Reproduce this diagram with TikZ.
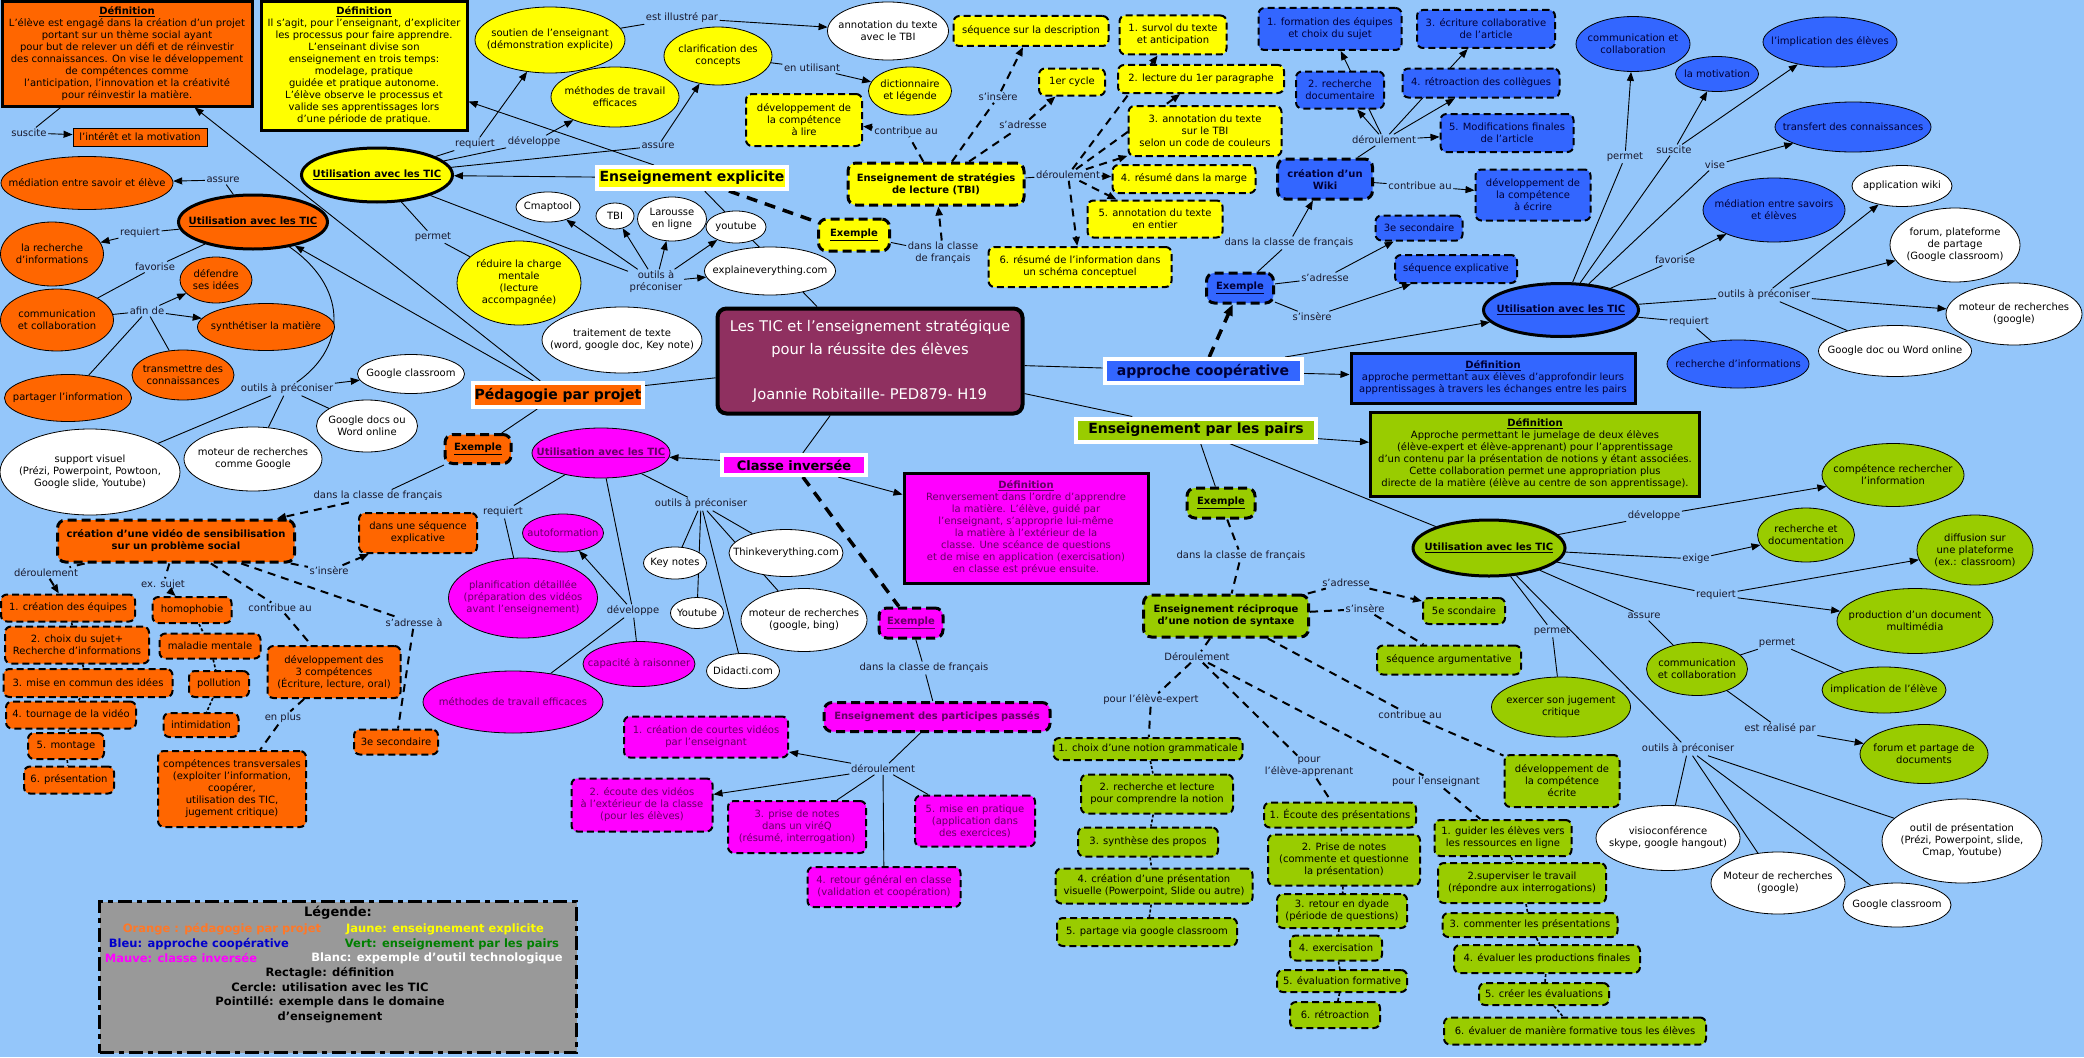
\documentclass[tikz,border=0pt]{standalone}
\usepackage{fontspec}
\setmainfont{DejaVu Sans}
\usetikzlibrary{shapes.geometric,arrows.meta}
\pgfdeclarelayer{bg}
\pgfdeclarelayer{edges}
\pgfsetlayers{bg,edges,main}
\definecolor{cbg}{RGB}{148,198,250}
\definecolor{cor}{RGB}{255,102,0}
\definecolor{cye}{RGB}{255,255,0}
\definecolor{cbl}{RGB}{51,102,255}
\definecolor{cma}{RGB}{255,0,255}
\definecolor{cgr}{RGB}{153,204,0}
\definecolor{cti}{RGB}{143,48,96}
\definecolor{cle}{RGB}{153,153,153}
\definecolor{labc}{RGB}{25,25,45}
\definecolor{btx}{RGB}{0,0,55}
\definecolor{mtx}{RGB}{100,0,100}
\definecolor{lgor}{RGB}{255,120,40}
\definecolor{lgbl}{RGB}{0,0,204}
\definecolor{lggr}{RGB}{0,128,0}
\tikzset{
 thn/.style={draw=black,line width=0.8pt},
 ticb/.style={draw=black,line width=3pt},
 dbx/.style={draw=black,line width=2pt,dash pattern=on 7pt off 4pt,rounded corners=6pt},
 exb/.style={draw=black,line width=3pt,dash pattern=on 9pt off 5pt,rounded corners=8pt},
 dfb/.style={draw=black,line width=3pt},
 hd/.style={draw=white,line width=4pt},
 txt/.style={align=center,inner sep=0pt,font=\fontsize{10}{12}\selectfont,text=black},
 lab/.style={align=center,inner sep=1.5pt,font=\fontsize{10}{12}\selectfont,text=labc},
 cln/.style={draw=black,line width=0.9pt},
 car/.style={cln,-{Triangle[length=9pt,width=7pt]}},
 cdl/.style={draw=black,line width=2pt,dash pattern=on 8pt off 6pt},
 cda/.style={cdl,-{Triangle[length=9pt,width=7pt]}},
 cdt/.style={draw=black,line width=3.5pt,dash pattern=on 11pt off 8pt},
 csm/.style={draw=black,line width=1.6pt,dash pattern=on 3pt off 2pt},
 lgt/.style={inner sep=0pt,font=\fontsize{11.5}{14}\selectfont\bfseries},
}
\newcommand\EL[7]{\node[ellipse,inner sep=0pt,#1,minimum width=#5pt,minimum height=#6pt] (#2) at (#3,#4) {};\node[txt] at (#2.center) {#7};}
\newcommand\BX[7]{\node[rectangle,inner sep=0pt,#1,minimum width=#5pt,minimum height=#6pt] (#2) at (#3,#4) {};\node[txt] at (#2.center) {#7};}
\newcommand\HB{\fontsize{14}{16}\selectfont\bfseries}
\begin{document}
\begin{tikzpicture}[x=1pt,y=-1pt]
\useasboundingbox (0,0) rectangle (2084,1057);
\begin{pgfonlayer}{bg}\fill[cbg] (0,0) rectangle (2084,1057);\end{pgfonlayer}

% ---------- title
\node[rectangle,rounded corners=9pt,draw=black,line width=4pt,fill=cti,minimum width=305pt,minimum height=105pt,inner sep=0pt] (title) at (870,361) {};
\node[text=white,align=center,inner sep=0pt,font=\fontsize{14.7}{22.5}\selectfont] at (title.center) {Les TIC et l'enseignement stratégique\\pour la réussite des élèves\\\mbox{}\\Joannie Robitaille- PED879- H19};

% ---------- ORANGE
\BX{dfb,fill=cor}{odef}{127}{54}{250}{104}{\underline{\textbf{Définition}}\\L'élève est engagé dans la création d'un projet\\portant sur un thème social ayant\\pour but de relever un défi et de réinvestir\\des connaissances. On vise le développement\\de compétences comme\\l'anticipation, l'innovation et la créativité\\pour réinvestir la matière.}
\node[lab] (osus) at (29,133) {suscite};
\BX{thn,fill=cor}{oint}{140}{137}{134}{18}{l’intérêt et la motivation}
\EL{thn,fill=cor}{omed}{87}{183}{172}{53}{médiation entre savoir et élève}
\node[lab] (oass) at (223,180) {assure};
\EL{ticb,fill=cor}{otic}{253}{222}{149}{54}{\textbf{\underline{Utilisation avec les TIC}}}
\node[lab] (oreq) at (140,233) {requiert};
\EL{thn,fill=cor}{orech}{52}{254}{103}{64}{la recherche\\d'informations}
\node[lab] (ofav) at (155,267) {favorise};
\EL{thn,fill=cor}{odefe}{216}{280}{72}{46}{défendre\\ses idées}
\EL{thn,fill=cor}{ocom}{57}{320}{113}{62}{communication\\et collaboration}
\node[lab] (oafin) at (147,311) {afin de};
\EL{thn,fill=cor}{osyn}{266}{327}{137}{47}{synthétiser la matière}
\EL{thn,fill=cor}{otra}{183}{375}{102}{50}{transmettre des\\connaissances}
\EL{thn,fill=cor}{opar}{68}{398}{127}{47}{partager l'information}
\node[lab] (oout) at (287,389) {outils à préconiser};
\EL{thn,fill=white}{ogcl}{411}{374}{107}{39}{Google classroom}
\EL{thn,fill=white}{ogdoc}{367}{426}{101}{52}{Google docs ou\\Word online}
\EL{thn,fill=white}{osup}{90}{472}{180}{86}{support visuel\\(Prézi, Powerpoint, Powtoon,\\Google slide, Youtube)}
\EL{thn,fill=white}{omot}{253}{459}{138}{64}{moteur de recherches\\comme Google}
\BX{hd,fill=cor}{hped}{558}{395}{170}{24}{\HB Pédagogie par projet}
\BX{exb,fill=cor}{oex}{478}{449}{66}{29}{\textbf{\underline{Exemple}}}
\node[lab] (ocl) at (378,496) {dans la classe de français};
\BX{exb,fill=cor}{ovid}{176}{541}{237}{42}{\textbf{création d'une vidéo de sensibilisation}\\\textbf{sur un problème social}}
\BX{dbx,fill=cor}{oseq}{418}{533}{118}{40}{dans une séquence\\explicative}
\node[lab] (oins) at (329,571) {s'insère};
\node[lab] (oder) at (46,573) {déroulement};
\node[lab] (oexs) at (163,585) {ex. sujet};
\node[lab] (ocon) at (280,608) {contribue au};
\node[lab] (oadr) at (414,623) {s'adresse à};
\BX{dbx,fill=cor}{os1}{68}{608}{134}{27}{1. création des équipes}
\BX{dbx,fill=cor}{os2}{77}{645}{144}{37}{2. choix du sujet+\\Recherche d'informations}
\BX{dbx,fill=cor}{os3}{88}{683}{169}{28}{3. mise en commun des idées}
\BX{dbx,fill=cor}{os4}{71}{715}{130}{27}{4. tournage de la vidéo}
\BX{dbx,fill=cor}{os5}{66}{746}{76}{26}{5. montage}
\BX{dbx,fill=cor}{os6}{69}{780}{90}{27}{6. présentation}
\BX{dbx,fill=cor}{osu1}{192}{610}{79}{26}{homophobie}
\BX{dbx,fill=cor}{osu2}{210}{646}{101}{25}{maladie mentale}
\BX{dbx,fill=cor}{osu3}{219}{684}{60}{26}{pollution}
\BX{dbx,fill=cor}{osu4}{201}{725}{75}{24}{intimidation}
\BX{dbx,fill=cor}{o3c}{334}{672}{133}{52}{développement des\\3 compétences\\(Écriture, lecture, oral)}
\node[lab] (oplus) at (283,718) {en plus};
\BX{dbx,fill=cor}{otr}{232}{789}{148}{76}{compétences transversales\\(exploiter l'information,\\coopérer,\\utilisation des TIC,\\jugement critique)}
\BX{dbx,fill=cor}{o3e}{396}{742}{84}{25}{3e secondaire}

% ---------- YELLOW
\BX{dfb,fill=cye}{ydef}{364}{66}{206}{128}{\underline{\textbf{Définition}}\\Il s'agit, pour l'enseignant, d'expliciter\\les processus pour faire apprendre.\\L'enseinant divise son\\enseignement en trois temps:\\modelage, pratique\\guidée et pratique autonome.\\L'élève observe le processus et\\valide ses apprentissages lors\\d'une période de pratique.}
\EL{ticb,fill=cye}{ytic}{377}{175}{151}{54}{\textbf{\underline{Utilisation avec les TIC}}}
\node[lab] (yreq) at (475,144) {requiert};
\node[lab] (ydev) at (534,142) {développe};
\node[lab] (yper) at (433,237) {permet};
\EL{thn,fill=cye}{yred}{519}{283}{124}{84}{réduire la charge\\mentale\\(lecture\\accompagnée)}
\EL{thn,fill=cye}{ysou}{550}{40}{150}{66}{soutien de l'enseignant\\(démonstration explicite)}
\node[lab] (yill) at (682,18) {est illustré par};
\EL{thn,fill=white}{yann}{888}{31}{121}{58}{annotation du texte\\avec le TBI}
\EL{thn,fill=cye}{ycla}{718}{56}{108}{58}{clarification des\\concepts}
\node[lab] (yuti) at (812,68) {en utilisant};
\EL{thn,fill=cye}{ydic}{910}{91}{83}{48}{dictionnaire\\et légende}
\EL{thn,fill=cye}{ymet}{615}{97}{128}{60}{méthodes de travail\\efficaces}
\node[lab] (yass) at (658,146) {assure};
\BX{dbx,fill=cye}{ylir}{804}{120}{116}{52}{développement de\\la compétence\\à lire}
\node[lab] (ycon) at (906,131) {contribue au};
\BX{hd,fill=cye}{hexp}{692}{178}{190}{22}{\HB Enseignement explicite}
\EL{thn,fill=white}{ycmap}{548}{207}{64}{30}{Cmaptool}
\EL{thn,fill=white}{ytbi}{615}{216}{38}{26}{TBI}
\EL{thn,fill=white}{ylar}{672}{219}{69}{44}{Larousse\\en ligne}
\EL{thn,fill=white}{yyou}{736}{227}{60}{32}{youtube}
\node[lab] (yout) at (656,282) {outils à\\préconiser};
\EL{thn,fill=white}{yexpl}{770}{271}{131}{48}{explaineverything.com}
\EL{thn,fill=white}{ytrt}{622}{340}{160}{66}{traitement de texte\\(word, google doc, Key note)}
\BX{exb,fill=cye}{yex}{854}{235}{71}{32}{\textbf{\underline{Exemple}}}
\node[lab] (ycl) at (943,253) {dans la classe\\de français};
\BX{exb,fill=cye}{ystr}{936}{184}{176}{42}{\textbf{Enseignement de stratégies}\\\textbf{de lecture (TBI)}}
\node[lab] (yins) at (998,97) {s'insère};
\node[lab] (yadr) at (1023,125) {s'adresse};
\BX{dbx,fill=cye}{yseq}{1031}{31}{155}{30}{séquence sur la description}
\BX{dbx,fill=cye}{ycyc}{1072}{82}{66}{27}{1er cycle}
\node[lab] (yder) at (1068,175) {déroulement};
\BX{dbx,fill=cye}{y1}{1173}{35}{107}{39}{1. survol du texte\\et anticipation}
\BX{dbx,fill=cye}{y2}{1201}{79}{166}{28}{2. lecture du 1er paragraphe}
\BX{dbx,fill=cye}{y3}{1205}{131}{153}{50}{3. annotation du texte\\sur le TBI\\selon un code de couleurs}
\BX{dbx,fill=cye}{y4}{1184}{179}{143}{28}{4. résumé dans la marge}
\BX{dbx,fill=cye}{y5}{1155}{219}{135}{37}{5. annotation du texte\\en entier}
\BX{dbx,fill=cye}{y6}{1080}{267}{183}{40}{6. résumé de l'information dans\\un schéma conceptuel}

% ---------- BLUE
\begin{scope}[txt/.append style={text=btx}]
\BX{dbx,fill=cbl}{b1}{1330}{29}{143}{42}{1. formation des équipes\\et choix du sujet}
\BX{dbx,fill=cbl}{b3}{1486}{29}{138}{38}{3. écriture collaborative\\de l'article}
\BX{dbx,fill=cbl}{b2}{1340}{90}{88}{37}{2. recherche\\documentaire}
\BX{dbx,fill=cbl}{b4}{1481}{83}{157}{29}{4. rétroaction des collègues}
\BX{dbx,fill=cbl}{b5}{1507}{133}{133}{38}{5. Modifications finales\\de l'article}
\node[lab] (bder) at (1384,140) {déroulement};
\BX{exb,fill=cbl}{bwik}{1325}{179}{95}{40}{\textbf{création d'un}\\\textbf{Wiki}}
\node[lab] (bcon) at (1420,186) {contribue au};
\BX{dbx,fill=cbl}{bdev}{1533}{195}{115}{51}{développement de\\la compétence\\à écrire}
\BX{dbx,fill=cbl}{b3e}{1419}{228}{87}{25}{3e secondaire}
\BX{dbx,fill=cbl}{bseq}{1456}{269}{122}{28}{séquence explicative}
\node[lab] (bcl) at (1289,243) {dans la classe de français};
\BX{exb,fill=cbl}{bex}{1240}{288}{67}{30}{\textbf{\underline{Exemple}}}
\node[lab] (badr) at (1325,278) {s'adresse};
\node[lab] (bins) at (1312,317) {s'insère};
\EL{ticb,fill=cbl}{btic}{1561}{310}{155}{53}{\textbf{\underline{Utilisation avec les TIC}}}
\EL{thn,fill=cbl}{bcom}{1633}{44}{114}{55}{communication et\\collaboration}
\EL{thn,fill=cbl}{bmot}{1717}{74}{83}{35}{la motivation}
\EL{thn,fill=cbl}{bimp}{1830}{42}{134}{50}{l'implication des élèves}
\EL{thn,fill=cbl}{btra}{1853}{127}{156}{50}{transfert des connaissances}
\node[lab] (bper) at (1625,157) {permet};
\node[lab] (bsus) at (1674,150) {suscite};
\node[lab] (bvis) at (1715,165) {vise};
\EL{thn,fill=cbl}{bmed}{1774}{210}{142}{64}{médiation entre savoirs\\et élèves}
\node[lab] (bfav) at (1675,260) {favorise};
\node[lab] (bout) at (1764,295) {outils à préconiser};
\node[lab] (breq) at (1689,322) {requiert};
\EL{thn,fill=cbl}{brec}{1738}{364}{142}{48}{recherche d'informations}
\BX{hd,fill=cbl}{happ}{1203}{371}{197}{24}{\HB approche coopérative}
\BX{dfb,fill=cbl}{bdef}{1493}{378}{284}{50}{\underline{\textbf{Définition}}\\approche permettant aux élèves d’approfondir leurs\\apprentissages à travers les échanges entre les pairs}
\end{scope}
\EL{thn,fill=white}{bwiki}{1902}{186}{100}{41}{application wiki}
\EL{thn,fill=white}{bfor}{1955}{245}{130}{74}{forum, plateforme\\de partage\\(Google classroom)}
\EL{thn,fill=white}{bmtr}{2014}{314}{136}{62}{moteur de recherches\\(google)}
\EL{thn,fill=white}{bgdoc}{1895}{351}{153}{51}{Google doc ou Word online}

% ---------- GREEN
\BX{hd,fill=cgr}{hpai}{1196}{430}{240}{23}{\HB Enseignement par les pairs}
\BX{dfb,fill=cgr}{gdef}{1535}{454}{329}{84}{\underline{\textbf{Définition}}\\Approche permettant le jumelage de deux élèves\\(élève-expert et élève-apprenant) pour l'apprentissage\\d'un contenu par la présentation de notions y étant associées.\\Cette collaboration permet une appropriation plus\\directe de la matière (élève au centre de son apprentissage).}
\BX{exb,fill=cgr}{gex}{1221}{503}{68}{30}{\textbf{\underline{Exemple}}}
\node[lab] (gcl) at (1241,556) {dans la classe de français};
\BX{exb,fill=cgr}{grec}{1226}{616}{165}{42}{\textbf{Enseignement réciproque}\\\textbf{d'une notion de syntaxe}}
\node[lab] (gadr) at (1346,583) {s'adresse};
\BX{dbx,fill=cgr}{g5e}{1464}{611}{82}{26}{5e scondaire}
\node[lab] (gins) at (1365,609) {s'insère};
\BX{dbx,fill=cgr}{gseq}{1449}{660}{144}{29}{séquence argumentative}
\node[lab] (gder) at (1197,657) {Déroulement};
\EL{ticb,fill=cgr}{gtic}{1489}{548}{152}{56}{\textbf{\underline{Utilisation avec les TIC}}}
\EL{thn,fill=cgr}{gcr}{1893}{475}{142}{63}{compétence rechercher\\l'information}
\node[lab] (gdev) at (1654,516) {développe};
\EL{thn,fill=cgr}{grd}{1806}{535}{97}{54}{recherche et\\documentation}
\node[lab] (gexi) at (1696,559) {exige};
\EL{thn,fill=cgr}{gdif}{1975}{550}{116}{70}{diffusion sur\\une plateforme\\(ex.: classroom)}
\node[lab] (greq) at (1716,595) {requiert};
\EL{thn,fill=cgr}{gprod}{1915}{621}{156}{65}{production d'un document\\multimédia}
\node[lab] (gass) at (1644,616) {assure};
\EL{thn,fill=cgr}{gcom}{1697}{669}{101}{53}{communication\\et collaboration}
\node[lab] (gpe2) at (1777,643) {permet};
\EL{thn,fill=cgr}{gimp}{1884}{690}{124}{46}{implication de l'élève}
\EL{thn,fill=cgr}{gexe}{1561}{707}{139}{60}{exercer son jugement\\critique}
\node[lab] (gper) at (1552,631) {permet};
\node[lab] (grea) at (1780,729) {est réalisé par};
\EL{thn,fill=cgr}{gfor}{1924}{754}{128}{59}{forum et partage de\\documents}
\node[lab] (gout) at (1688,749) {outils à préconiser};
\EL{thn,fill=white}{gvis}{1668}{838}{144}{65}{visioconférence\\skype, google hangout)}
\EL{thn,fill=white}{gmot}{1778}{883}{134}{62}{Moteur de recherches\\(google)}
\EL{thn,fill=white}{ggcl}{1897}{905}{108}{44}{Google classroom}
\EL{thn,fill=white}{gpre}{1962}{841}{160}{84}{outil de présentation\\(Prézi, Powerpoint, slide,\\Cmap, Youtube)}
\BX{dbx,fill=cgr}{gdve}{1562}{781}{115}{52}{développement de\\la compétence\\écrite}
\node[lab] (gpex) at (1151,700) {pour l'élève-expert};
\node[lab] (gcon) at (1410,715) {contribue au};
\node[lab] (gpap) at (1309,767) {pour\\l'élève-apprenant};
\node[lab] (gpen) at (1436,782) {pour l'enseignant};
\BX{dbx,fill=cgr}{ge1}{1148}{749}{189}{22}{1. choix d'une notion grammaticale}
\BX{dbx,fill=cgr}{ge2}{1157}{794}{152}{39}{2. recherche et lecture\\pour comprendre la notion}
\BX{dbx,fill=cgr}{ge3}{1148}{842}{140}{29}{3. synthèse des propos}
\BX{dbx,fill=cgr}{ge4}{1154}{886}{197}{35}{4. création d'une présentation\\visuelle (Powerpoint, Slide ou autre)}
\BX{dbx,fill=cgr}{ge5}{1147}{932}{180}{28}{5. partage via google classroom}
\BX{dbx,fill=cgr}{ga1}{1340}{815}{152}{25}{1. Écoute des présentations}
\BX{dbx,fill=cgr}{ga2}{1344}{860}{152}{51}{2. Prise de notes\\(commente et questionne\\la présentation)}
\BX{dbx,fill=cgr}{ga3}{1342}{911}{130}{34}{3. retour en dyade\\(période de questions)}
\BX{dbx,fill=cgr}{ga4}{1336}{948}{92}{25}{4. exercisation}
\BX{dbx,fill=cgr}{ga5}{1342}{981}{130}{22}{5. évaluation formative}
\BX{dbx,fill=cgr}{ga6}{1335}{1015}{90}{26}{6. rétroaction}
\BX{dbx,fill=cgr}{gt1}{1503}{838}{137}{36}{1. guider les élèves vers\\les ressources en ligne}
\BX{dbx,fill=cgr}{gt2}{1522}{883}{168}{40}{2.superviser le travail\\(répondre aux interrogations)}
\BX{dbx,fill=cgr}{gt3}{1530}{925}{175}{24}{3. commenter les présentations}
\BX{dbx,fill=cgr}{gt4}{1547}{959}{186}{28}{4. évaluer les productions finales}
\BX{dbx,fill=cgr}{gt5}{1544}{994}{130}{22}{5. créer les évaluations}
\BX{dbx,fill=cgr}{gt6}{1575}{1031}{262}{27}{6. évaluer de manière formative tous les élèves}

% ---------- MAGENTA
\begin{scope}[txt/.append style={text=mtx}]
\EL{thn,fill=cma}{mtic}{601}{453}{138}{50}{\textbf{\underline{Utilisation avec les TIC}}}
\BX{hd,fill=cma}{hcla}{794}{465}{144}{20}{\fontsize{13}{15}\selectfont\bfseries\color{black}Classe inversée}
\BX{dfb,fill=cma}{mdef}{1026}{528}{244}{110}{\underline{\textbf{Définition}}\\Renversement dans l'ordre d'apprendre\\la matière. L'élève, guidé par\\l'enseignant, s'approprie lui-même\\la matière à l'extérieur de la\\classe. Une scéance de questions\\et de mise en application (exercisation)\\en classe est prévue ensuite.}
\EL{thn,fill=cma}{maut}{563}{533}{81}{38}{autoformation}
\EL{thn,fill=cma}{mpla}{523}{598}{149}{80}{planification détaillée\\(préparation des vidéos\\avant l'enseignement)}
\EL{thn,fill=cma}{mcap}{639}{664}{112}{45}{capacité à raisonner}
\EL{thn,fill=cma}{mmet}{513}{702}{180}{62}{méthodes de travail efficaces}
\BX{exb,fill=cma}{mex}{911}{623}{64}{30}{\textbf{\underline{Exemple}}}
\BX{exb,fill=cma}{mpar}{937}{717}{226}{29}{\textbf{Enseignement des participes passés}}
\BX{dbx,fill=cma}{m1}{706}{737}{164}{41}{1. création de courtes vidéos\\par l'enseignant}
\BX{dbx,fill=cma}{m2}{642}{805}{141}{53}{2. écoute des vidéos\\à l'extérieur de la classe\\(pour les élèves)}
\BX{dbx,fill=cma}{m3}{797}{827}{138}{52}{3. prise de notes\\dans un viréQ\\(résumé, interrogation)}
\BX{dbx,fill=cma}{m4}{884}{887}{153}{40}{4. retour général en classe\\(validation et coopération)}
\BX{dbx,fill=cma}{m5}{975}{821}{120}{51}{5. mise en pratique\\(application dans\\des exercices)}
\end{scope}
\node[lab] (mreq) at (503,512) {requiert};
\node[lab] (mdev) at (633,611) {développe};
\node[lab] (mout) at (701,504) {outils à préconiser};
\EL{thn,fill=white}{mkey}{675}{563}{63}{32}{Key notes}
\EL{thn,fill=white}{myou}{697}{613}{53}{31}{Youtube}
\EL{thn,fill=white}{mthi}{786}{553}{114}{47}{Thinkeverything.com}
\EL{thn,fill=white}{mmot}{804}{620}{126}{63}{moteur de recherches\\(google, bing)}
\EL{thn,fill=white}{mdid}{743}{671}{73}{35}{Didacti.com}
\node[lab] (mcl) at (924,668) {dans la classe de français};
\node[lab] (mder) at (883,769) {déroulement};

% ---------- LEGEND
\node[rectangle,draw=black,line width=3pt,dash pattern=on 14pt off 5pt on 5pt off 5pt,fill=cle,minimum width=477pt,minimum height=151pt,inner sep=0pt] (leg) at (338,977) {};
\node[lgt,font=\fontsize{13}{15}\selectfont\bfseries] at (338,913) {Légende:};
\node[lgt,text=lgor] at (222,929) {Orange : pédagogie par projet};
\node[lgt,text=cye] at (445,929) {Jaune: enseignement explicite};
\node[lgt,text=lgbl] at (199,944) {Bleu: approche coopérative};
\node[lgt,text=lggr] at (452,944) {Vert: enseignement par les pairs};
\node[lgt,text=cma] at (181,958) {Mauve: classe inversée};
\node[lgt,text=white] at (437,958) {Blanc: expemple d'outil technologique};
\node[lgt] at (330,973) {Rectagle: définition};
\node[lgt] at (330,987) {Cercle: utilisation avec les TIC};
\node[lgt] at (330,1002) {Pointillé: exemple dans le domaine};
\node[lgt] at (330,1017) {d'enseignement};

% ================= EDGES
\begin{pgfonlayer}{edges}
% title
\draw[cln] (title) -- (hped);
\draw[cln] (title) -- (hcla);
\draw[cln] (title) -- (happ);
\draw[cln] (title) -- (hpai);
\draw[cln] (hexp) -- (title);
% orange
\draw[car] (hped) -- (odef);
\draw[car] (hped) -- (otic);
\draw[cln] (odef) -- (osus);
\draw[car] (osus) -- (oint);
\draw[cln] (otic) -- (oass); \draw[car] (oass) -- (omed);
\draw[cln] (otic) -- (oreq); \draw[car] (oreq) -- (orech);
\draw[cln] (otic) -- (ofav); \draw[cln] (ofav) -- (ocom);
\draw[cln] (ocom) -- (oafin);
\draw[car] (oafin) -- (odefe); \draw[car] (oafin) -- (osyn);
\draw[cln] (oafin) -- (otra); \draw[cln] (oafin) -- (opar);
\draw[cln] (otic) .. controls (345,285) and (350,345) .. (oout);
\draw[car] (oout) -- (ogcl); \draw[cln] (oout) -- (ogdoc);
\draw[cln] (oout) -- (osup); \draw[cln] (oout) -- (omot);
\draw[cln] (hped) -- (oex);
\draw[cln] (oex) -- (ocl); \draw[cda] (ocl) -- (ovid);
\draw[cdl] (ovid) -- (oins); \draw[cda] (oins) -- (oseq);
\draw[cdl] (ovid) -- (oder); \draw[cda] (oder) -- (os1);
\draw[cdl] (ovid) -- (oexs); \draw[cda] (oexs) -- (osu1);
\draw[cdl] (ovid) -- (ocon); \draw[cdl] (ocon) -- (o3c);
\draw[cdl] (ovid) -- (oadr); \draw[cdl] (oadr) -- (o3e);
\draw[cdl] (o3c) -- (oplus); \draw[cdl] (oplus) -- (otr);
\foreach \a/\b in {os1/os2,os2/os3,os3/os4,os4/os5,os5/os6,osu1/osu2,osu2/osu3,osu3/osu4} \draw[csm] (\a) -- (\b);
% yellow
\draw[car] (hexp) -- (ydef);
\draw[car] (hexp) -- (ytic);
\draw[cln] (ytic) -- (yreq); \draw[car] (yreq) -- (ysou);
\draw[cln] (ytic) -- (ydev); \draw[car] (ydev) -- (ymet);
\draw[cln] (ytic) -- (yass); \draw[car] (yass) -- (ycla);
\draw[cln] (ytic) -- (yper); \draw[cln] (yper) -- (yred);
\draw[cln] (ytic) -- (yout);
\foreach \t in {ycmap,ytbi,ylar,yyou,yexpl} \draw[car] (yout) -- (\t);
\draw[cln] (ysou) -- (yill); \draw[car] (yill) -- (yann);
\draw[cln] (ycla) -- (yuti); \draw[car] (yuti) -- (ydic);
\draw[cdt] (hexp) -- (yex);
\draw[cln] (yex) -- (ycl); \draw[cda] (ycl) -- (ystr);
\draw[cdl] (ystr) -- (ycon); \draw[cda] (ycon) -- (ylir);
\draw[cdl] (ystr) -- (yins); \draw[cda] (yins) -- (yseq);
\draw[cdl] (ystr) -- (yadr); \draw[cda] (yadr) -- (ycyc);
\draw[cln] (ystr) -- (yder);
\foreach \t in {y1,y2,y3,y4,y5,y6} \draw[cda] (yder) -- (\t);
% blue
\draw[cdt,-{Triangle[length=11pt,width=9pt]}] (happ) -- (bex);
\draw[car] (happ) -- (btic);
\draw[car] (happ) -- (bdef);
\draw[cln] (bex) -- (badr); \draw[car] (badr) -- (b3e);
\draw[cln] (bex) -- (bins); \draw[car] (bins) -- (bseq);
\draw[cln] (bex) -- (bcl); \draw[car] (bcl) -- (bwik);
\draw[cln] (bwik) -- (bcon); \draw[car] (bcon) -- (bdev);
\draw[cln] (bwik) -- (bder);
\foreach \t in {b1,b2,b3,b4,b5} \draw[car] (bder) -- (\t);
\draw[cln] (btic) -- (bper); \draw[car] (bper) -- (bcom);
\draw[cln] (btic) -- (bsus); \draw[car] (bsus) -- (bmot); \draw[car] (bsus) -- (bimp);
\draw[cln] (btic) -- (bvis); \draw[car] (bvis) -- (btra);
\draw[cln] (btic) -- (bfav); \draw[car] (bfav) -- (bmed);
\draw[cln] (btic) -- (bout);
\draw[car] (bout) -- (bwiki); \draw[car] (bout) -- (bfor); \draw[car] (bout) -- (bmtr); \draw[cln] (bout) -- (bgdoc);
\draw[cln] (btic) -- (breq); \draw[cln] (breq) -- (brec);
% green
\draw[car] (hpai) -- (gdef);
\draw[cln] (hpai) -- (gtic);
\draw[cln] (hpai) -- (gex);
\draw[cdl] (gex) -- (gcl); \draw[cdl] (gcl) -- (grec);
\draw[cdl] (grec) -- (gadr); \draw[cda] (gadr) -- (g5e);
\draw[cdl] (grec) -- (gins); \draw[cdl] (gins) -- (gseq);
\draw[cdl] (grec) -- (gder);
\draw[cdl] (gder) -- (gpex); \draw[cdl] (gpex) -- (ge1);
\draw[cdl] (gder) -- (gpap); \draw[cdl] (gpap) -- (ga1);
\draw[cdl] (gder) -- (gpen); \draw[cdl] (gpen) -- (gt1);
\draw[cdl] (grec) -- (gcon); \draw[cdl] (gcon) -- (gdve);
\foreach \a/\b in {ge1/ge2,ge2/ge3,ge3/ge4,ge4/ge5,ga1/ga2,ga2/ga3,ga3/ga4,ga4/ga5,ga5/ga6,gt1/gt2,gt2/gt3,gt3/gt4,gt4/gt5,gt5/gt6} \draw[csm] (\a) -- (\b);
\draw[cln] (gtic) -- (gdev); \draw[car] (gdev) -- (gcr);
\draw[cln] (gtic) -- (gexi); \draw[car] (gexi) -- (grd);
\draw[cln] (gtic) -- (greq); \draw[car] (greq) -- (gdif); \draw[car] (greq) -- (gprod);
\draw[cln] (gtic) -- (gass); \draw[cln] (gass) -- (gcom);
\draw[cln] (gcom) -- (gpe2); \draw[cln] (gpe2) -- (gimp);
\draw[cln] (gcom) -- (grea); \draw[car] (grea) -- (gfor);
\draw[cln] (gtic) -- (gper); \draw[cln] (gper) -- (gexe);
\draw[cln] (gtic) -- (gout);
\foreach \t in {gvis,gmot,ggcl,gpre} \draw[cln] (gout) -- (\t);
% magenta
\draw[car] (hcla) -- (mtic);
\draw[car] (hcla) -- (mdef);
\draw[cdt] (hcla) -- (mex);
\draw[cln] (mtic) -- (mreq); \draw[cln] (mreq) -- (mpla);
\draw[cln] (mtic) -- (mdev); \draw[car] (mdev) -- (maut);
\draw[cln] (mdev) -- (mcap); \draw[cln] (mdev) -- (mmet);
\draw[cln] (mtic) -- (mout);
\foreach \t in {mkey,myou,mdid,mthi,mmot} \draw[cln] (mout) -- (\t);
\draw[cln] (mex) -- (mcl); \draw[cln] (mcl) -- (mpar);
\draw[cln] (mpar) -- (mder);
\draw[car] (mder) -- (m1); \draw[car] (mder) -- (m2);
\draw[cln] (mder) -- (m3); \draw[cln] (mder) -- (m4); \draw[cln] (mder) -- (m5);
\end{pgfonlayer}
\end{tikzpicture}
\end{document}
